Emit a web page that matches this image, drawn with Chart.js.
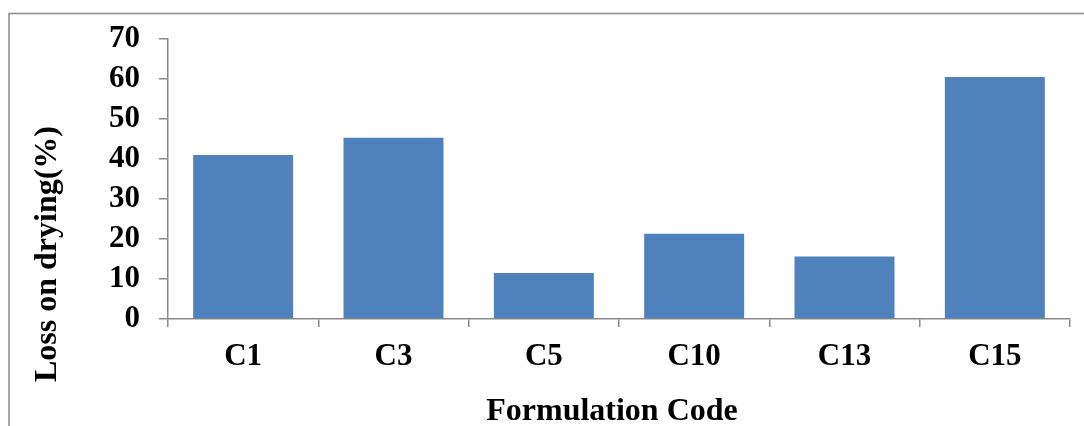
<!DOCTYPE html>
<html>
<head>
<meta charset="utf-8">
<script src="https://cdn.jsdelivr.net/npm/chart.js@4/dist/chart.umd.min.js"></script>
<style>
  html, body { margin: 0; padding: 0; background: #ffffff; }
  #wrap { width: 1084px; height: 426px; position: relative; }
  canvas { display: block; }
</style>
</head>
<body>
<div id="wrap"><canvas id="chart" width="1084" height="426"></canvas></div>
<script>
// Loss on drying per formulation
const categories = ['C1', 'C3', 'C5', 'C10', 'C13', 'C15'];
const lossOnDrying = [41.0, 45.3, 11.5, 21.3, 15.6, 60.5];
const yTickValues = [0, 10, 20, 30, 40, 50, 60, 70];
const xAxisTitle = 'Formulation Code';
const yAxisTitle = 'Loss on drying(%)';

const FONT_FAMILY = '"Liberation Serif", "Times New Roman", serif';
const AXIS_GREY = '#8a8a8a';
const BAR_BLUE = '#4f81bd';

// Thin frame along the top and left edges of the canvas
const framePlugin = {
  id: 'frame',
  beforeDraw(chart) {
    const ctx = chart.ctx;
    ctx.save();
    ctx.strokeStyle = AXIS_GREY;
    ctx.lineWidth = 1.5;
    ctx.beginPath();
    ctx.moveTo(9, chart.height);
    ctx.lineTo(9, 13.5);
    ctx.lineTo(chart.width, 13.5);
    ctx.stroke();
    ctx.restore();
  }
};

// Axis titles placed like the spreadsheet layout
const axisTitlePlugin = {
  id: 'axisTitles',
  afterDraw(chart) {
    const ctx = chart.ctx;
    ctx.save();
    ctx.font = 'bold 32px ' + FONT_FAMILY;
    ctx.fillStyle = '#000000';
    ctx.textAlign = 'center';
    ctx.textBaseline = 'middle';
    ctx.fillText(xAxisTitle, 612, 412);
    ctx.translate(48, 254);
    ctx.rotate(-Math.PI / 2);
    ctx.fillText(yAxisTitle, 0, 0);
    ctx.restore();
  }
};

new Chart(document.getElementById('chart'), {
  type: 'bar',
  data: {
    labels: categories,
    datasets: [{
      data: lossOnDrying,
      backgroundColor: BAR_BLUE,
      borderWidth: 0,
      categoryPercentage: 1.0,
      barPercentage: 0.665
    }]
  },
  options: {
    responsive: false,
    animation: false,
    devicePixelRatio: 1,
    layout: { padding: { left: 0, right: 14, top: 39, bottom: 0 } },
    plugins: {
      legend: { display: false },
      tooltip: { enabled: false }
    },
    scales: {
      x: {
        grid: {
          offset: true,
          drawOnChartArea: false,
          drawTicks: true,
          tickLength: 8,
          color: AXIS_GREY,
          lineWidth: 1.5
        },
        border: { display: true, color: AXIS_GREY, width: 1.5 },
        ticks: {
          color: '#000000',
          padding: 11,
          autoSkip: false,
          maxRotation: 0,
          font: { family: FONT_FAMILY, size: 31, weight: 'bold' }
        },
        afterFit(scale) { scale.height = 107; }
      },
      y: {
        min: yTickValues[0],
        max: yTickValues[yTickValues.length - 1],
        afterBuildTicks(scale) {
          scale.ticks = yTickValues.map(v => ({ value: v }));
        },
        grid: {
          drawOnChartArea: false,
          drawTicks: true,
          tickLength: 9,
          color: AXIS_GREY,
          lineWidth: 1.5
        },
        border: { display: true, color: AXIS_GREY, width: 1.5 },
        ticks: {
          color: '#000000',
          padding: 19,
          autoSkip: false,
          font: { family: FONT_FAMILY, size: 31, weight: 'bold' }
        },
        afterFit(scale) { scale.width = 168; }
      }
    }
  },
  plugins: [framePlugin, axisTitlePlugin]
});
</script>
</body>
</html>
